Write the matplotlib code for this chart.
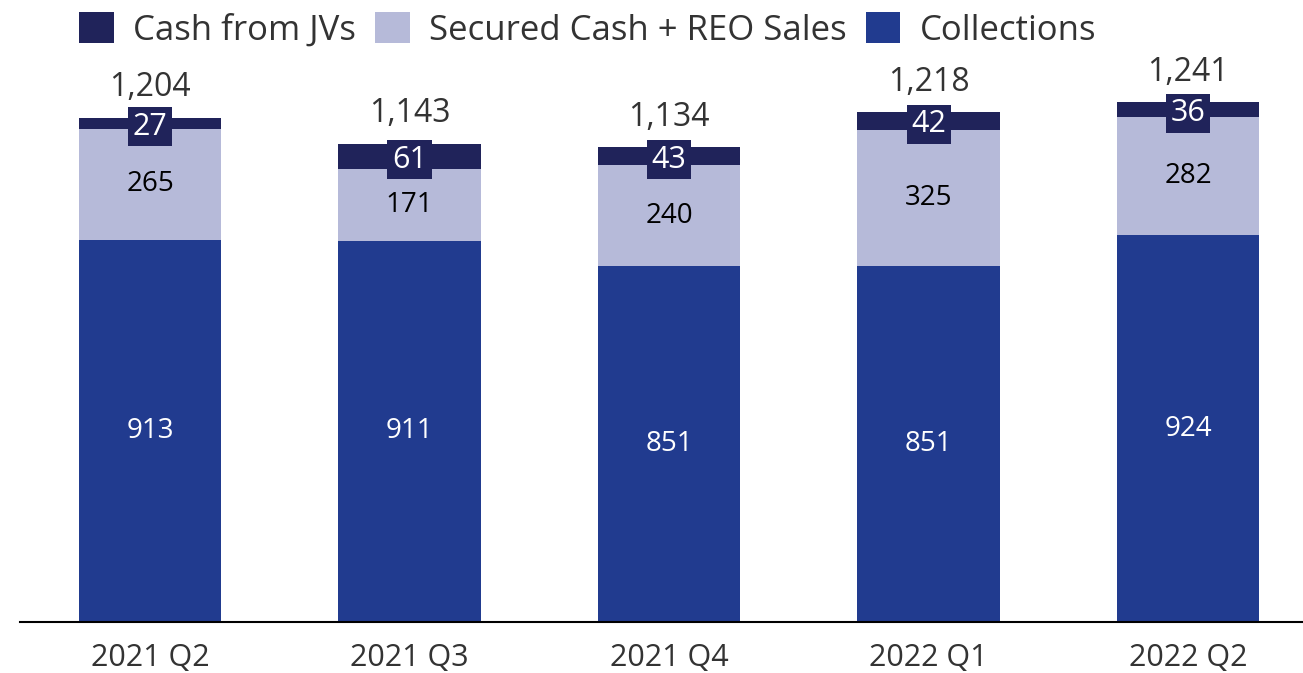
import matplotlib.pyplot as plt
import numpy as np

quarters    = ["2021 Q2", "2021 Q3", "2021 Q4", "2022 Q1", "2022 Q2"]
collections = [913, 911, 851, 851, 924]
secured     = [265, 171, 240, 325, 282]
jvs         = [27, 61, 43, 42, 36]
totals      = [1204, 1143, 1134, 1218, 1241]

c_jv  = "#20235A"
c_sec = "#B6BAD9"
c_col = "#213B8F"
txt   = "#333333"

plt.rcParams["font.family"] = ["Open Sans", "DejaVu Sans"]

fig = plt.figure(figsize=(13.03, 6.73), dpi=100)
ax = fig.add_axes([20 / 1303, 51 / 673, 1283 / 1303, 622 / 673])

x = np.arange(len(quarters))
w = 0.55
col = np.array(collections)
sec = np.array(secured)
jv = np.array(jvs)

b1 = ax.bar(x, col, width=w, color=c_col, label="Collections")
b2 = ax.bar(x, sec, width=w, bottom=col, color=c_sec, label="Secured Cash + REO Sales")
b3 = ax.bar(x, jv, width=w, bottom=col + sec, color=c_jv, label="Cash from JVs")

for i in range(len(x)):
    ax.text(x[i], col[i] / 2, str(col[i]), ha="center", va="center",
            color="white", fontsize=20)
    ax.text(x[i], col[i] + sec[i] / 2, str(sec[i]), ha="center", va="center",
            color="black", fontsize=20)
    ax.text(x[i], col[i] + sec[i] + jv[i] / 2, str(jv[i]), ha="center", va="center_baseline",
            color="white", fontsize=22,
            bbox=dict(boxstyle="square,pad=0.15", fc=c_jv, ec="none"))
    ax.text(x[i], totals[i] + 72, f"{totals[i]:,}", ha="center", va="center",
            color=txt, fontsize=23)

ax.set_xlim(-0.501, 4.443)
ax.set_ylim(0, 1486)
ax.set_xticks(x)
ax.set_xticklabels(quarters, fontsize=22, color=txt)
ax.tick_params(axis="x", length=0, pad=15)
ax.set_yticks([])
for s in ["top", "right", "left"]:
    ax.spines[s].set_visible(False)
ax.spines["bottom"].set_linewidth(1.5)
ax.patch.set_alpha(0)

handles = [b3, b2, b1]
fig.legend(handles, [h.get_label() for h in handles], loc="center left",
           bbox_to_anchor=(48 / 1303, 1 - 30 / 673), ncol=3, frameon=False,
           fontsize=25, handlelength=1.0, handleheight=1.0,
           handletextpad=0.55, columnspacing=0.55, labelcolor=txt)

fig.savefig("out.png", dpi=100)
